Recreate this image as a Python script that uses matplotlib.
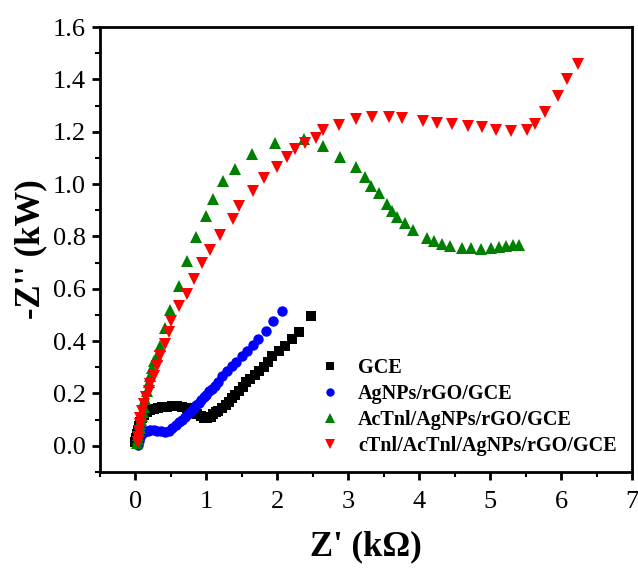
# Nyquist plots for the four electrodes

import matplotlib
matplotlib.use("Agg")
import matplotlib.pyplot as plt
from matplotlib.ticker import MultipleLocator

# GCE
gce_x = [0.00, 0.01, 0.02, 0.03, 0.05, 0.07, 0.09, 0.12, 0.16, 0.20, 0.26, 0.32, 0.38, 0.45, 0.52,
         0.59, 0.66, 0.72, 0.77, 0.82, 0.87, 0.92, 0.97, 1.01, 1.06, 1.10, 1.14, 1.17, 1.22, 1.27,
         1.32, 1.36, 1.41, 1.46, 1.51, 1.56, 1.62, 1.68, 1.74, 1.81, 1.87, 1.93, 2.02, 2.11, 2.20,
         2.30, 2.47]
gce_y = [0.015, 0.030, 0.045, 0.060, 0.075, 0.090, 0.105, 0.118, 0.128, 0.135, 0.140, 0.145, 0.147,
         0.149, 0.151, 0.151, 0.150, 0.146, 0.140, 0.132, 0.122, 0.113, 0.108, 0.108, 0.112, 0.120,
         0.128, 0.134, 0.144, 0.155, 0.168, 0.181, 0.195, 0.210, 0.225, 0.242, 0.255, 0.270, 0.285,
         0.303, 0.322, 0.344, 0.362, 0.382, 0.408, 0.433, 0.497]

# AgNPs/rGO/GCE
ag_x = [0.03, 0.05, 0.07, 0.10, 0.13, 0.17, 0.21, 0.26, 0.31, 0.36, 0.42, 0.47, 0.52, 0.57, 0.62,
        0.66, 0.70, 0.74, 0.78, 0.82, 0.86, 0.89, 0.93, 0.96, 1.00, 1.04, 1.08, 1.12, 1.16, 1.22,
        1.29, 1.36, 1.42, 1.50, 1.57, 1.65, 1.73, 1.84, 1.94, 2.07]
ag_y = [0.005, 0.020, 0.035, 0.048, 0.055, 0.058, 0.060, 0.060, 0.058, 0.055, 0.052, 0.058, 0.068,
        0.080, 0.092, 0.100, 0.110, 0.120, 0.132, 0.145, 0.155, 0.165, 0.175, 0.185, 0.196, 0.208,
        0.218, 0.230, 0.245, 0.265, 0.287, 0.305, 0.321, 0.342, 0.363, 0.386, 0.410, 0.440, 0.475,
        0.516]

# AcTnl/AgNPs/rGO/GCE
ac_x = [0.02, 0.03, 0.04, 0.05, 0.06, 0.07, 0.08, 0.09, 0.10, 0.12, 0.14, 0.16, 0.19, 0.21, 0.23,
        0.26, 0.31, 0.34, 0.41, 0.49, 0.62, 0.73, 0.86, 0.99, 1.10, 1.24, 1.40, 1.64, 1.97, 2.38,
        2.64, 2.89, 3.11, 3.24, 3.32, 3.43, 3.54, 3.61, 3.69, 3.80, 3.91, 4.11, 4.21, 4.32, 4.44,
        4.61, 4.73, 4.87, 5.01, 5.12, 5.23, 5.32, 5.41]
ac_y = [0.010, 0.025, 0.040, 0.055, 0.070, 0.085, 0.100, 0.115, 0.130, 0.150, 0.178, 0.210, 0.242,
        0.268, 0.299, 0.325, 0.344, 0.382, 0.449, 0.519, 0.612, 0.707, 0.797, 0.877, 0.943, 1.011,
        1.058, 1.113, 1.156, 1.173, 1.147, 1.105, 1.064, 1.026, 0.994, 0.965, 0.924, 0.896, 0.873,
        0.850, 0.825, 0.794, 0.784, 0.771, 0.765, 0.756, 0.756, 0.752, 0.756, 0.758, 0.762, 0.769,
        0.769]

# cTnl/AcTnl/AgNPs/rGO/GCE
ct_x = [0.03, 0.03, 0.05, 0.06, 0.07, 0.09, 0.12, 0.15, 0.19, 0.21, 0.26, 0.31, 0.35, 0.42, 0.47,
        0.50, 0.62, 0.72, 0.83, 0.94, 1.05, 1.19, 1.37, 1.46, 1.65, 1.81, 2.00, 2.14, 2.25, 2.39,
        2.54, 2.64, 2.87, 3.11, 3.33, 3.57, 3.76, 4.05, 4.25, 4.46, 4.69, 4.88, 5.08, 5.29, 5.52,
        5.63, 5.78, 5.95, 6.09, 6.24]
ct_y = [0.013, 0.032, 0.057, 0.083, 0.108, 0.134, 0.159, 0.185, 0.210, 0.236, 0.268, 0.306, 0.344,
        0.389, 0.433, 0.475, 0.535, 0.580, 0.637, 0.698, 0.748, 0.807, 0.867, 0.918, 0.973, 1.024,
        1.067, 1.105, 1.135, 1.156, 1.176, 1.207, 1.224, 1.247, 1.256, 1.256, 1.252, 1.240, 1.234,
        1.230, 1.221, 1.217, 1.208, 1.202, 1.208, 1.230, 1.275, 1.336, 1.400, 1.457]

plt.rcParams['font.family'] = ['Liberation Serif', 'DejaVu Serif']

fig = plt.figure(figsize=(6.38, 5.73), dpi=100)
ax = fig.add_axes([100 / 638, 1 - 472 / 573, 532 / 638, 445 / 573])

ax.plot(gce_x, gce_y, 's', color='black', ms=7, mew=0, label='GCE')
ax.plot(ag_x, ag_y, 'o', color='#0000ff', ms=7.5, mew=0, label='AgNPs/rGO/GCE')
ax.plot(ac_x, ac_y, '^', color='#008000', ms=8.5, mew=0, label='AcTnl/AgNPs/rGO/GCE')
ax.plot(ct_x, ct_y, 'v', color='#ff0000', ms=8.5, mew=0, label='cTnl/AcTnl/AgNPs/rGO/GCE')

ax.set_xlim(-0.5, 7)
ax.set_ylim(-0.1, 1.6)
ax.xaxis.set_major_locator(MultipleLocator(1))
ax.xaxis.set_minor_locator(MultipleLocator(0.5))
ax.yaxis.set_major_locator(MultipleLocator(0.2))
ax.yaxis.set_minor_locator(MultipleLocator(0.1))
ax.yaxis.set_major_formatter(lambda v, p: f"{v:.1f}")

for s in ax.spines.values():
    s.set_linewidth(2)
ax.tick_params(which='major', direction='out', length=6, width=2, labelsize=19, pad=4)
ax.tick_params(which='minor', direction='out', length=3.5, width=1.5)
ax.tick_params(axis='x', pad=8)

ax.set_xlabel("Z' (k\u03a9)", fontsize=25, fontweight='bold', labelpad=12)
ax.set_ylabel("-Z'' (kW)", fontsize=25, fontweight='bold', labelpad=4)

leg = ax.legend(loc='upper left', bbox_to_anchor=(320 / 638, 1 - 358 / 573),
                bbox_transform=fig.transFigure, frameon=False, numpoints=1,
                handlelength=1.0, handletextpad=0.9, labelspacing=0.3,
                borderpad=0, borderaxespad=0,
                prop={'size': 14.5, 'weight': 'bold'}, markerscale=0.8)

fig.savefig('out.png', dpi=100)
